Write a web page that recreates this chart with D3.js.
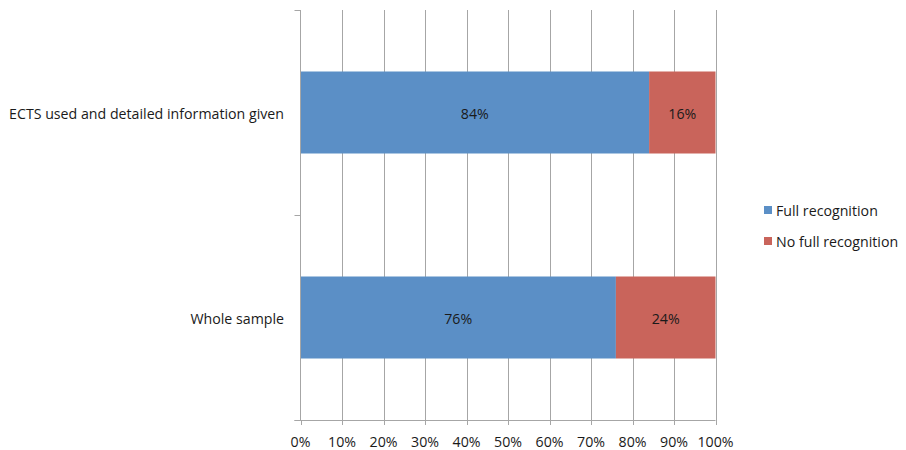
<!DOCTYPE html>
<html><head><meta charset="utf-8">
<script src="https://cdn.jsdelivr.net/npm/d3@7"></script>
<style>body{margin:0;background:#fff;}svg{display:block;}text{font-family:"Open Sans",Lato,sans-serif;fill:#1a1a1a;}</style>
</head><body><svg id="c" width="906" height="450"></svg>
<script>
const categories = ["ECTS used and detailed information given", "Whole sample"];
const fullRecognition = [84, 76];
const noFullRecognition = [16, 24];
const seriesNames = ["Full recognition", "No full recognition"];
const xTicks = [0,10,20,30,40,50,60,70,80,90,100];
const colors = ["#5B8FC6", "#C9645B"];

const svg = d3.select("#c");
const m = {l:300.5, r:715.5, t:10, b:420};
const x = d3.scaleLinear().domain([0,100]).range([m.l, m.r]);
const y = d3.scaleBand().domain(categories).range([m.t, m.b]).paddingInner(0.6).paddingOuter(0.3);
const fs = "14.2px";

// grid
svg.append("g").selectAll("line").data(xTicks.slice(1)).join("line")
  .attr("x1", d=>Math.round(x(d))+0.5).attr("x2", d=>Math.round(x(d))+0.5)
  .attr("y1", m.t).attr("y2", m.b).attr("stroke","#a6a6a6").attr("stroke-width",1);

const data = categories.map((c,i)=>({cat:c, vals:[fullRecognition[i], noFullRecognition[i]]}));
const g = svg.append("g");
data.forEach(d=>{
  let acc=0;
  d.vals.forEach((v,j)=>{
    const x0=x(acc), x1=x(acc+v);
    g.append("rect").attr("x",x0).attr("width",x1-x0).attr("y",y(d.cat)).attr("height",y.bandwidth()).attr("fill",colors[j]);
    g.append("text").attr("x",(x0+x1)/2).attr("y",y(d.cat)+y.bandwidth()/2+6).attr("text-anchor","middle").attr("font-size",fs).text(v+"%");
    acc+=v;
  });
});

// y axis
svg.append("line").attr("x1",m.l).attr("x2",m.l).attr("y1",m.t).attr("y2",m.b).attr("stroke","#a6a6a6");
const yTickPos=[m.t, (m.t+m.b)/2, m.b];
svg.append("g").selectAll("line").data(yTickPos).join("line")
  .attr("x1",m.l-6).attr("x2",m.l).attr("y1",d=>Math.round(d)+0.5).attr("y2",d=>Math.round(d)+0.5).attr("stroke","#a6a6a6");
svg.append("g").selectAll("text").data(categories).join("text")
  .attr("x",284).attr("y",d=>y(d)+y.bandwidth()/2+6).attr("text-anchor","end").attr("font-size",fs).text(d=>d);

// x axis
svg.append("line").attr("x1",m.l-6).attr("x2",m.r).attr("y1",m.b+0.5).attr("y2",m.b+0.5).attr("stroke","#a6a6a6");
svg.append("g").selectAll("line").data(xTicks).join("line")
  .attr("x1",d=>Math.round(x(d))+0.5).attr("x2",d=>Math.round(x(d))+0.5).attr("y1",m.b).attr("y2",m.b+5).attr("stroke","#a6a6a6");
svg.append("g").selectAll("text").data(xTicks).join("text")
  .attr("x",d=>x(d)).attr("y",447).attr("text-anchor","middle").attr("font-size",fs).text(d=>d+"%");

// legend
const lg = svg.append("g");
seriesNames.forEach((s,i)=>{
  lg.append("rect").attr("x",764).attr("y",206+i*31).attr("width",8).attr("height",8).attr("fill",colors[i]);
  lg.append("text").attr("x",776).attr("y",216+i*31).attr("font-size",fs).text(s);
});
</script></body></html>
